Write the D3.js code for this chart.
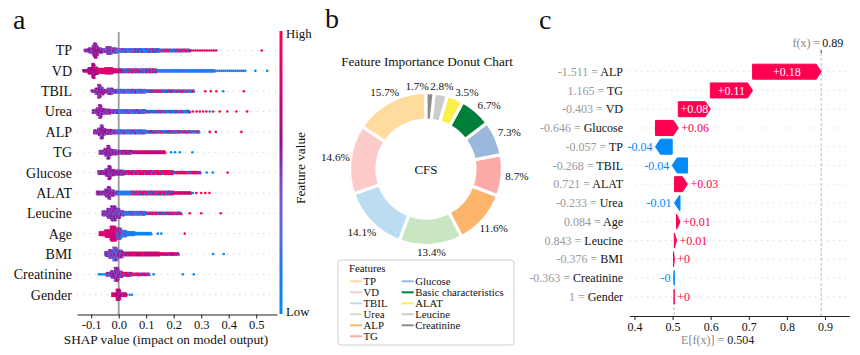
<!DOCTYPE html>
<html><head><meta charset="utf-8">
<script src="https://cdn.jsdelivr.net/npm/d3@7"></script>
<style>
body{margin:0;background:#fff}
svg{display:block}
text{font-family:"Liberation Serif","Times New Roman",serif;fill:#111}
</style>
</head><body>
<svg id="chart" width="860" height="355"></svg>
<script>
// ================= DATA =================
// Panel a: SHAP beeswarm
const features = ["TP","VD","TBIL","Urea","ALP","TG","Glucose","ALAT","Leucine","Age","BMI","Creatinine","Gender"];
const shapTicks = [-0.1,0,0.1,0.2,0.3,0.4,0.5];
// swarm segments: [from SHAP, to SHAP, dots per column, mean feature value (0 low..1 high), spread, column step]
const swarmTP = [[-0.125,-0.11,2,.55,.35],[-0.11,-0.095,4,.55,.35],[-0.095,-0.09,8,.55,.35],[-0.09,-0.08,12,.6,.35],[-0.08,-0.075,8,.55,.35],[-0.075,-0.06,4,.55,.35],[-0.06,-0.045,3,.5,.35],[-0.045,-0.025,6,.5,.4],[-0.025,-0.005,4,.45,.5],[-0.005,0.06,3,.3,.5],[0.06,0.15,3,.35,.9],[0.15,0.26,2,.55,1],[0.26,0.36,1,.9,.3,0.008]];
const outTP = [[0.52,1]];
const swarmVD = [[-0.13,-0.11,2,.7,.3],[-0.11,-0.097,5,.7,.3],[-0.097,-0.087,12,.7,.3],[-0.087,-0.075,6,.75,.3],[-0.075,-0.05,4,.85,.3],[-0.05,-0.02,5,.85,.3],[-0.02,0.015,3,.8,.4],[0.015,0.14,3,.55,.8],[0.14,0.35,2,.15,.4],[0.35,0.465,1,.1,.3,0.007]];
const outVD = [[0.497,0],[0.54,0]];
const swarmTBIL = [[-0.1,-0.085,2,.55,.35],[-0.085,-0.075,5,.55,.35],[-0.075,-0.065,11,.55,.35],[-0.065,-0.055,6,.55,.35],[-0.055,-0.04,3,.5,.35],[-0.04,-0.02,5,.5,.4],[-0.02,0,3,.45,.5],[0,0.1,3,.3,.6],[0.1,0.2,2,.55,1],[0.2,0.276,2,.55,1,0.007]];
const outTBIL = [[0.315,1],[0.335,1],[0.355,1],[0.38,0],[0.455,1]];
const swarmUrea = [[-0.095,-0.08,3,.55,.35],[-0.08,-0.072,6,.55,.35],[-0.072,-0.062,11,.55,.35],[-0.062,-0.05,5,.55,.35],[-0.05,-0.03,4,.5,.35],[-0.03,0,3,.45,.5],[0,0.1,3,.3,.6],[0.1,0.26,2,.35,.9]];
const outUrea = [[0.27,1],[0.283,1],[0.295,1],[0.307,1],[0.319,1],[0.331,0],[0.343,1],[0.367,1],[0.395,1],[0.428,1],[0.467,1]];
const swarmALP = [[-0.09,-0.075,3,.55,.35],[-0.075,-0.066,6,.55,.35],[-0.066,-0.056,11,.55,.35],[-0.056,-0.045,5,.55,.35],[-0.045,-0.025,4,.5,.35],[-0.025,0,3,.45,.5],[0,0.1,3,.3,.6],[0.1,0.22,2,.5,1],[0.22,0.295,2,.6,.9,0.007]];
const outALP = [[0.331,1],[0.353,1],[0.446,1]];
const swarmTG = [[-0.07,-0.052,3,.55,.35],[-0.052,-0.042,6,.55,.35],[-0.042,-0.032,11,.55,.35],[-0.032,-0.022,5,.55,.35],[-0.022,-0.005,4,.5,.35],[-0.005,0.05,3,.6,.6],[0.05,0.17,2,.8,.5]];
const outTG = [[0.19,0],[0.205,0],[0.222,0],[0.268,0]];
const swarmGlucose = [[-0.075,-0.05,3,.55,.35],[-0.05,-0.038,6,.55,.35],[-0.038,-0.028,11,.55,.35],[-0.028,-0.015,5,.55,.35],[-0.015,0.02,4,.6,.5],[0.02,0.2,3,.7,.7],[0.2,0.3,2,.75,.7,0.007]];
const outGlucose = [[0.32,0],[0.342,0],[0.396,1]];
const swarmALAT = [[-0.08,-0.05,3,.55,.35],[-0.05,-0.04,6,.55,.35],[-0.04,-0.03,10,.55,.35],[-0.03,-0.015,5,.5,.35],[-0.015,0,3,.5,.4],[0,0.05,3,.15,.3],[0.05,0.2,3,.6,.9],[0.2,0.265,2,.8,.5,0.007]];
const outALAT = [[0.27,0],[0.282,1],[0.3,1],[0.315,1],[0.33,1]];
const swarmLeucine = [[-0.06,-0.042,4,.5,.35],[-0.042,-0.028,8,.5,.35],[-0.028,-0.01,12,.5,.35],[-0.01,0.005,8,.45,.45],[0.005,0.02,4,.4,.5],[0.02,0.1,3,.25,.6],[0.1,0.229,2,.6,.9]];
const outLeucine = [[0.258,1],[0.30,1],[0.371,1]];
const swarmAge = [[-0.07,-0.05,3,.9,.2],[-0.05,-0.03,6,.85,.2],[-0.03,-0.01,12,.8,.3],[-0.01,0.01,9,.5,.7],[0.01,0.03,5,.2,.4],[0.03,0.06,3,.1,.2],[0.06,0.12,2,.05,.1]];
const outAge = [[0.142,0],[0.155,0],[0.24,1]];
const swarmBMI = [[-0.05,-0.035,4,.45,.4],[-0.035,-0.02,7,.45,.4],[-0.02,-0.005,11,.4,.45],[-0.005,0.015,6,.45,.6],[0.015,0.05,3,.7,.6],[0.05,0.15,3,.8,.5],[0.15,0.22,2,.75,.6,0.007]];
const outBMI = [[0.343,0],[0.382,0]];
const swarmCreatinine = [[-0.045,-0.028,3,.5,.4],[-0.028,-0.015,6,.5,.4],[-0.015,0,11,.5,.45],[0,0.015,5,.55,.6],[0.015,0.05,3,.65,.7],[0.05,0.113,2,.7,.7]];
const outCreatinine = [[-0.072,0],[-0.065,0],[-0.058,0],[-0.051,0],[0.127,0],[0.233,0],[0.273,0]];
const swarmGender = [[-0.025,-0.008,3,.8,.4],[-0.008,0.006,9,.75,.5],[0.006,0.03,3,.7,.6]];
const outGender = [[0.04,0],[0.048,0]];
const swarms = [swarmTP,swarmVD,swarmTBIL,swarmUrea,swarmALP,swarmTG,swarmGlucose,swarmALAT,swarmLeucine,swarmAge,swarmBMI,swarmCreatinine,swarmGender];
const outliers = [outTP,outVD,outTBIL,outUrea,outALP,outTG,outGlucose,outALAT,outLeucine,outAge,outBMI,outCreatinine,outGender];

// Panel b: donut
const donutLabels = ["TP","VD","TBIL","Urea","ALP","TG","Glucose","Basic characteristics","ALAT","Leucine","Creatinine"];
const donutValues = [15.7,14.6,14.1,13.4,11.6,8.7,7.3,6.7,3.5,2.8,1.7];

// Panel c: waterfall
const wfFeatures = ["ALP","TG","VD","Glucose","TP","TBIL","ALAT","Urea","Age","Leucine","BMI","Creatinine","Gender"];
const wfValues = ["-1.511","1.165","-0.403","-0.646","-0.057","-0.268","0.721","-0.233","0.084","0.843","-0.376","-0.363","1"];
const wfShap = [0.18,0.111,0.084,0.06,-0.044,-0.040,0.034,-0.0145,0.009,0.006,0.002,-0.0019,0.0004];
const baseValue = 0.504;
const wfTicks = [0.4,0.5,0.6,0.7,0.8,0.9];

// ================= STYLE =================
const RED = "#ff0051", BLUE = "#008bfb";
const cmapStops = [0,0.15,0.3,0.42,0.52,0.6,0.75,0.9,1];
const cmapColors = ["#008bfb","#1f78f2","#5a68e0","#7c55d0","#8a30a8","#940c8e","#c00680","#e8026a","#ff0052"];
const donutColors = ["#ffdb9e","#fdcaca","#bcdcf2","#c8e6c2","#fdb56b","#fbaaa8","#9ab8dc","#007f3a","#fdef4a","#cccccc","#8c8c8c"];
const cmap = d3.scaleLinear().domain(cmapStops).range(cmapColors).clamp(true);

const svg = d3.select("#chart");

// ================= PANEL A =================
const gA = svg.append("g");
const xA = d3.scaleLinear().domain([(77-118.7)/275,(277-118.7)/275]).range([77,277]);
const yA = d3.scalePoint().domain(features).range([50.5,294.7]);

gA.append("text").attr("x",13).attr("y",29).style("font-size","28px").text("a");

gA.selectAll("line.row").data(features).join("line")
  .attr("x1",77).attr("x2",277).attr("y1",d=>yA(d)).attr("y2",d=>yA(d))
  .attr("stroke","#ccc").attr("stroke-width",1).attr("stroke-dasharray","1,5");
gA.append("line").attr("x1",xA(0)).attr("x2",xA(0)).attr("y1",32).attr("y2",314.5)
  .attr("stroke","#999").attr("stroke-width",1.8);

features.forEach((f,fi)=>{
  const yc = yA(f);
  const dots = [];
  swarms[fi].forEach((s,si)=>{
    const [v0,v1,n,t,sp,st=0.005] = s;
    const cols = Math.max(1,Math.round((v1-v0)/st));
    for(let j=0;j<cols;j++){
      const v = v0 + (j+0.5)*(v1-v0)/cols;
      for(let k=0;k<n;k++){
        const off = (k-(n-1)/2)*1.25;
        const ph = (k*0.618 + j*0.382 + si*0.273 + fi*0.131)%1;
        let c = t + sp*(ph-0.5);
        if(sp>=0.7) c = c<0.5 ? c*0.35 : 1-(1-c)*0.35;
        c = Math.max(0,Math.min(1,c));
        dots.push({v,off,c,jit:(k%2?0.35:-0.35)});
      }
    }
  });
  outliers[fi].forEach(o=>dots.push({v:o[0],off:0,c:o[1],jit:0}));
  gA.append("g").selectAll("circle").data(dots).join("circle")
    .attr("cx",d=>xA(d.v)+d.jit).attr("cy",d=>yc+d.off).attr("r",1.3)
    .attr("fill",d=>cmap(d.c));
});

gA.selectAll("text.flab").data(features).join("text")
  .attr("x",72).attr("y",d=>yA(d)).attr("dy","0.35em").attr("text-anchor","end")
  .style("font-size","14px").text(d=>d);

const axA = gA.append("g").attr("transform","translate(0,314.5)")
  .call(d3.axisBottom(xA).tickValues(shapTicks).tickSize(4).tickPadding(1.5).tickSizeOuter(0).tickFormat(d=>d.toFixed(1)));
axA.attr("font-family",null);
axA.select(".domain").attr("stroke","#222");
axA.selectAll(".tick line").attr("stroke","#222");
axA.selectAll(".tick text").style("font-size","12.5px").attr("fill","#111");
gA.append("text").attr("x",166).attr("y",344).attr("text-anchor","middle").style("font-size","13.3px")
  .text("SHAP value (impact on model output)");

const defs = svg.append("defs");
const grad = defs.append("linearGradient").attr("id","cb").attr("x1",0).attr("y1",1).attr("x2",0).attr("y2",0);
grad.selectAll("stop").data(cmapStops).join("stop").attr("offset",d=>d).attr("stop-color",(d,i)=>cmapColors[i]);
gA.append("rect").attr("x",279.5).attr("y",31).attr("width",3).attr("height",283).attr("fill","url(#cb)");
gA.append("text").attr("x",286).attr("y",38).style("font-size","12.8px").text("High");
gA.append("text").attr("x",286).attr("y",316).style("font-size","12.8px").text("Low");
gA.append("text").attr("transform","translate(305,168) rotate(-90)").attr("text-anchor","middle")
  .style("font-size","13.3px").text("Feature value");

// ================= PANEL B =================
const gB = svg.append("g");
gB.append("text").attr("x",325).attr("y",28).style("font-size","28px").text("b");
gB.append("text").attr("x",427).attr("y",66).attr("text-anchor","middle").style("font-size","13.2px")
  .text("Feature Importance Donut Chart");
const cx = 426, cy = 169, R = 76.5, r0 = 49;
const pie = d3.pie().sort(null).value(d=>d).startAngle(0).endAngle(-2*Math.PI);
const arcs = pie(donutValues);
const arcGen = d3.arc().innerRadius(r0).outerRadius(R);
const gD = gB.append("g").attr("transform",`translate(${cx},${cy})`);
gD.selectAll("path").data(arcs).join("path").attr("d",arcGen)
  .attr("fill",(d,i)=>donutColors[i]).attr("stroke","#fff").attr("stroke-width",3.2);
gD.append("text").attr("x",0).attr("y",0).attr("dy","0.35em").attr("text-anchor","middle")
  .style("font-size","13px").text("CFS");
const lab = arcs.map((a,i)=>{
  let m = (a.startAngle+a.endAngle)/2*180/Math.PI;
  m = ((m%360)+540)%360-180;
  return {i,a:m};
});
lab.sort((p,q)=>p.a-q.a);
for(let it=0;it<80;it++){
  for(let k=1;k<lab.length;k++){
    const g = lab[k].a-lab[k-1].a;
    if(g<17){ const d=(17-g)/2; lab[k].a+=d; lab[k-1].a-=d; }
  }
}
// label radius: ring edge + half text box in the label's direction
const rLab = a => { const t=a*Math.PI/180; return 79 + 12*Math.abs(Math.sin(t)) + 3*Math.abs(Math.cos(t)); };
gD.selectAll("text.pct").data(lab).join("text")
  .attr("x",d=>rLab(d.a)*Math.sin(d.a*Math.PI/180)).attr("y",d=>-rLab(d.a)*Math.cos(d.a*Math.PI/180))
  .attr("dy","0.35em").attr("text-anchor","middle").style("font-size","11.2px")
  .text(d=>donutValues[d.i].toFixed(1)+"%");

const gL = gB.append("g");
gL.append("rect").attr("x",338).attr("y",260).attr("width",176).attr("height",85).attr("rx",3)
  .attr("fill","#fff").attr("stroke","#cfcfcf").attr("stroke-width",1);
gL.append("text").attr("x",349).attr("y",272).style("font-size","10.8px").text("Features");
const legItems = gL.selectAll("g.li").data(donutLabels).join("g")
  .attr("transform",(d,i)=>`translate(${i<6?350:401.7},${281.3+11*(i%6)})`);
legItems.append("line").attr("x1",0).attr("x2",12).attr("y1",0).attr("y2",0)
  .attr("stroke",(d,i)=>donutColors[i]).attr("stroke-width",2);
legItems.append("text").attr("x",13.5).attr("y",0).attr("dy","0.33em").style("font-size","10.8px").text(d=>d);

// ================= PANEL C =================
const gC = svg.append("g");
gC.append("text").attr("x",539).attr("y",29).style("font-size","28px").text("c");
const xC = d3.scaleLinear().domain([0.3864,0.9638]).range([629.3,849.3]);
const yC = d3.scalePoint().domain(wfFeatures).range([71.7,296.7]);
const fx = baseValue + d3.sum(wfShap);
const fmtVal = (v,dec)=>{ let s=Math.abs(v).toFixed(dec); if(s.includes(".")) s=s.replace(/0+$/,"").replace(/\.$/,""); return s; };
const fmtShap = v => (v>=0?"+":"-")+fmtVal(v,2);

gC.selectAll("line.row").data(wfFeatures).join("line")
  .attr("x1",629.3).attr("x2",849.3).attr("y1",d=>yC(d)).attr("y2",d=>yC(d))
  .attr("stroke","#ccc").attr("stroke-width",1).attr("stroke-dasharray","1,5");
gC.append("line").attr("x1",xC(fx)).attr("x2",xC(fx)).attr("y1",53).attr("y2",316)
  .attr("stroke","#bbb").attr("stroke-width",1).attr("stroke-dasharray","3,2");
gC.append("line").attr("x1",xC(baseValue)).attr("x2",xC(baseValue)).attr("y1",297).attr("y2",316)
  .attr("stroke","#bbb").attr("stroke-width",1).attr("stroke-dasharray","3,2");
gC.append("line").attr("x1",xC(fx)).attr("x2",xC(fx)).attr("y1",50).attr("y2",53).attr("stroke","#333");

const bars = [];
let cum = baseValue;
for(let i=wfFeatures.length-1;i>=0;i--){
  bars.push({i,start:cum,end:cum+wfShap[i],v:wfShap[i]});
  cum += wfShap[i];
}
const bh = 15, hlMax = 5;
bars.forEach(b=>{
  const y = yC(wfFeatures[b.i]);
  const x0 = xC(b.start), x1 = xC(b.end);
  const dir = x1>=x0?1:-1;
  const len = Math.abs(x1-x0);
  const hl = Math.min(hlMax,len);
  const xb = x1 - dir*hl;
  const pts = [[x0,y-bh/2],[xb,y-bh/2],[x1,y],[xb,y+bh/2],[x0,y+bh/2]];
  const col = b.v>=0?RED:BLUE;
  gC.append("path").attr("d","M"+pts.map(p=>p.join(",")).join("L")+"Z")
    .attr("fill",col).attr("stroke",col).attr("stroke-width",1).attr("stroke-linejoin","round");
  const t = gC.append("text").attr("y",y).attr("dy","0.35em").style("font-size","12px").text(fmtShap(b.v));
  const tw = t.node().getComputedTextLength();
  if(tw+4 < len){
    t.attr("x",(x0+x1)/2).attr("text-anchor","middle").style("fill","#fff");
  } else if(dir>0){
    t.attr("x",Math.max(x0,x1)+3).attr("text-anchor","start").style("fill",col);
  } else {
    t.attr("x",Math.min(x0,x1)-3).attr("text-anchor","end").style("fill",col);
  }
});

const yl = gC.selectAll("text.yl").data(wfFeatures).join("text")
  .attr("x",623).attr("y",d=>yC(d)).attr("dy","0.35em").attr("text-anchor","end").style("font-size","12px");
yl.append("tspan").style("fill","#999").text((d,i)=>wfValues[i]+" = ");
yl.append("tspan").style("fill","#111").text(d=>d);

const axC = gC.append("g").attr("transform","translate(0,316)")
  .call(d3.axisBottom(xC).tickValues(wfTicks).tickSize(4).tickPadding(2.5).tickSizeOuter(0).tickFormat(d=>d.toFixed(1)));
axC.attr("font-family",null);
axC.select(".domain").attr("stroke","#222");
axC.selectAll(".tick line").attr("stroke","#222");
axC.selectAll(".tick text").style("font-size","12px").attr("fill","#111");

gC.append("text").attr("x",xC(fx)-1).attr("y",47).attr("text-anchor","end").style("font-size","12px").style("fill","#888").text("f(x) = ");
gC.append("text").attr("x",xC(fx)+1).attr("y",47).attr("text-anchor","start").style("font-size","12px").style("fill","#111").text(fmtVal(fx,3));
const ef = gC.append("text").attr("x",xC(baseValue)+7).attr("y",344).style("font-size","12px");
ef.append("tspan").style("fill","#888").text("E[f(x)] = ");
ef.append("tspan").style("fill","#222").text(fmtVal(baseValue,3));
</script>
</body></html>
